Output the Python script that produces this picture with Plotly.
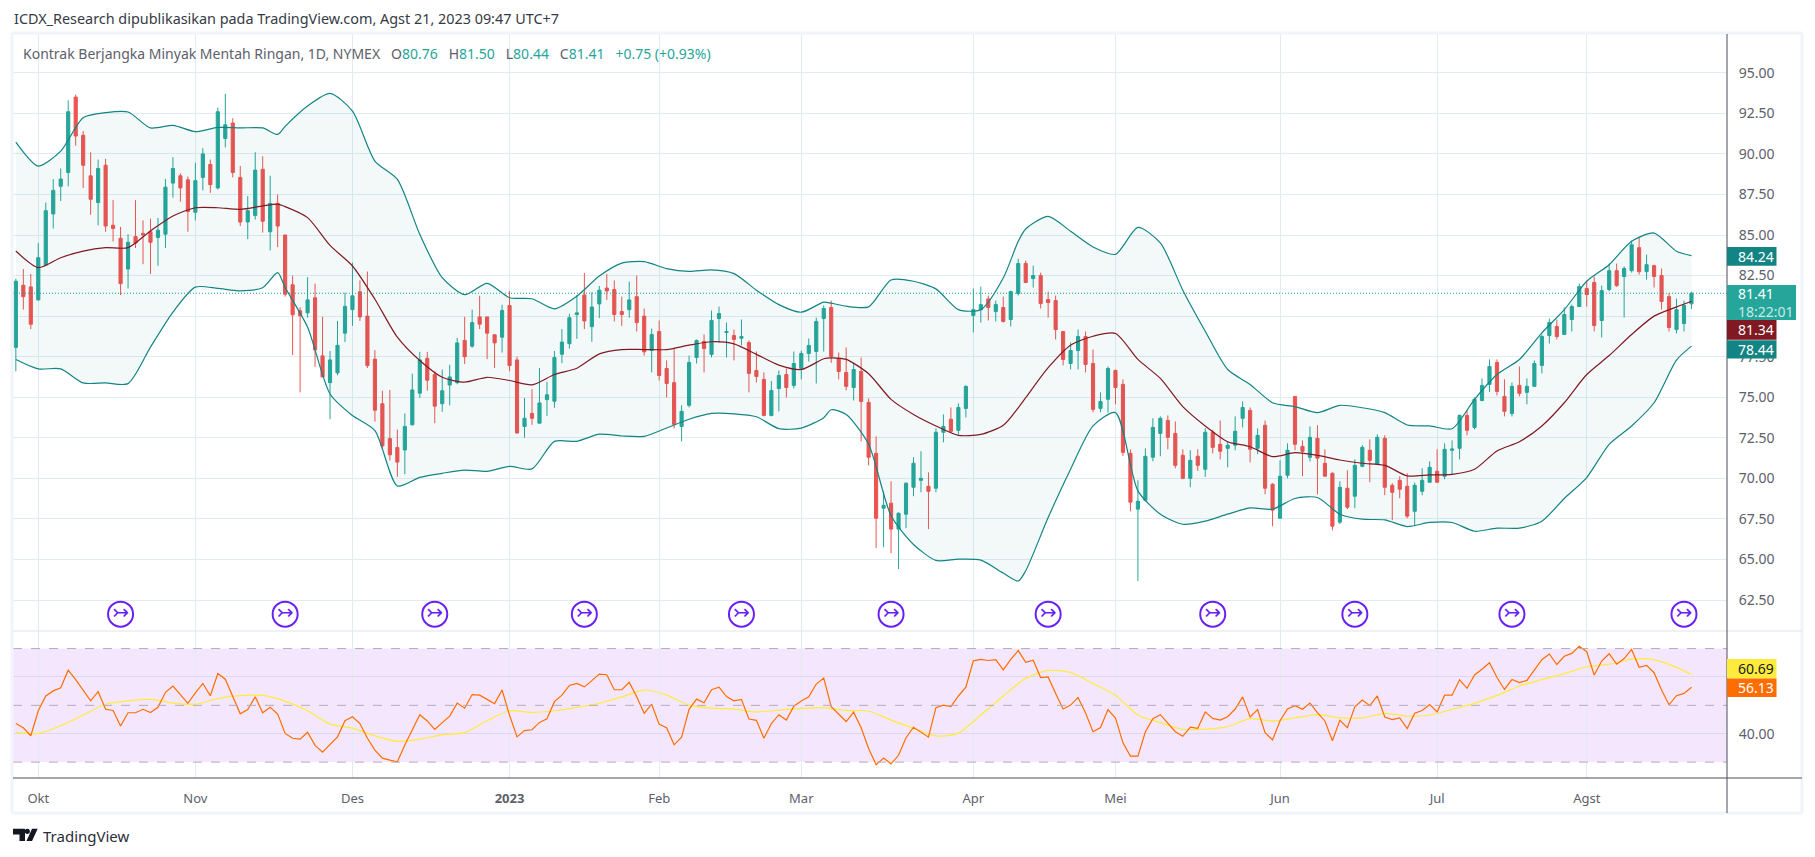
import plotly.graph_objects as go
from plotly.subplots import make_subplots

# Bars are numbered by session, 0 is the first session of October 2022
first_bar = -3

opens = [
    78.07, 81.9, 81.8, 81.0, 83.15, 86.3, 88.0, 88.85, 93.5, 91.15,
    88.65, 87.0, 89.3, 85.6, 84.8, 82.9, 84.9, 85.1, 85.2, 84.85,
    85.05, 88.2, 88.65, 88.4, 86.4, 88.55, 89.35, 87.9, 90.95, 91.9,
    88.55, 85.8, 86.2, 89.05, 85.2, 86.95, 85.0, 81.93, 80.33, 80.2,
    81.13, 77.55, 75.9, 76.5, 78.95, 80.4, 81.5, 80.0, 77.35, 74.6,
    72.45, 71.9, 71.75, 73.3, 75.25, 77.4, 76.4, 74.6, 75.75, 75.9,
    78.5, 78.15, 79.95, 79.95, 78.85, 78.7, 80.65, 77.3, 73.2, 74.0,
    73.4, 74.85, 74.75, 77.65, 78.3, 80.1, 81.3, 79.35, 80.75, 81.73,
    81.64, 80.28, 80.4, 81.2, 80.0, 77.88, 79.05, 76.77, 75.9, 73.2,
    74.5, 77.45, 78.44, 77.64, 79.85, 78.99, 78.8, 78.64, 78.37, 76.65,
    76.1, 73.88, 75.54, 76.4, 75.73, 76.77, 77.7, 77.82, 79.85, 80.53,
    77.39, 76.53, 75.6, 76.59, 74.68, 71.54, 68.16, 68.47, 66.87, 67.79,
    69.45, 69.88, 69.51, 69.39, 72.84, 73.64, 72.96, 74.31, 80.04, 80.4,
    81.06, 80.28, 80.53, 79.79, 81.39, 83.24, 82.31, 82.5, 81.02, 80.96,
    79.05, 77.08, 77.88, 78.74, 77.08, 74.31, 74.87, 76.65, 75.79, 71.54,
    68.1, 68.65, 71.3, 72.77, 73.57, 72.77, 71.42, 70.0, 71.36, 70.56,
    72.84, 72.1, 71.85, 72.04, 73.7, 74.19, 71.85, 73.27, 69.64, 67.54,
    70.19, 75.05, 71.97, 71.3, 72.47, 70.93, 70.31, 67.3, 69.39, 68.9,
    70.74, 71.73, 70.87, 72.47, 69.57, 69.88, 69.51, 67.97, 69.2, 69.76,
    70.44, 70.13, 71.73, 71.85, 73.88, 73.14, 74.8, 75.79, 77.14, 75.05,
    74.0, 75.73, 75.3, 75.67, 76.96, 78.8, 79.36, 78.87, 79.79, 80.59,
    81.7, 82.07, 79.73, 81.64, 82.8, 82.44, 82.8, 84.22, 82.74, 83.11,
    82.5, 81.2, 79.17, 79.54, 80.76,
]
highs = [
    82.3, 82.9, 82.6, 84.5, 87.0, 88.45, 89.1, 93.3, 93.65, 91.4,
    90.1, 89.65, 89.7, 87.15, 85.5, 85.05, 87.15, 85.9, 86.0, 86.05,
    88.45, 89.8, 88.8, 88.6, 89.45, 90.35, 89.65, 92.85, 93.7, 92.2,
    89.25, 87.4, 90.1, 89.85, 88.65, 87.5, 85.0, 82.5, 80.55, 82.4,
    82.0, 79.95, 77.85, 79.7, 81.45, 83.3, 82.2, 82.75, 77.9, 75.4,
    75.45, 73.0, 74.0, 76.45, 77.8, 77.8, 76.6, 76.7, 77.0, 78.65,
    79.95, 80.4, 81.25, 79.95, 78.85, 80.7, 81.55, 77.5, 74.95, 75.5,
    76.8, 75.95, 77.85, 79.2, 80.15, 81.3, 82.66, 81.47, 81.86, 82.6,
    82.2, 81.2, 82.13, 82.5, 80.47, 79.23, 79.73, 77.27, 77.98, 74.5,
    77.57, 78.56, 78.87, 80.34, 80.59, 79.6, 79.17, 79.79, 78.5, 77.82,
    76.53, 76.0, 76.65, 76.77, 77.82, 77.88, 78.62, 79.91, 80.65, 80.96,
    77.76, 78.07, 77.12, 77.45, 74.93, 72.59, 69.2, 69.82, 67.9, 69.74,
    71.3, 71.67, 70.37, 73.08, 73.94, 74.37, 74.62, 75.73, 81.7, 81.82,
    81.27, 80.96, 81.2, 81.57, 83.54, 83.42, 83.11, 82.68, 81.51, 81.27,
    79.05, 78.37, 79.17, 79.05, 77.94, 75.3, 76.9, 76.71, 76.1, 71.79,
    69.88, 71.85, 73.7, 73.82, 73.88, 73.51, 71.79, 71.73, 71.79, 73.1,
    73.0, 73.57, 72.3, 73.82, 74.74, 74.37, 73.08, 73.57, 69.7, 71.11,
    72.16, 75.05, 72.34, 73.2, 73.27, 71.79, 70.37, 69.82, 70.5, 71.17,
    72.04, 72.4, 72.71, 72.65, 69.7, 70.13, 70.31, 69.74, 70.62, 71.05,
    71.79, 72.16, 72.34, 73.94, 74.19, 74.99, 76.16, 77.33, 77.33, 76.1,
    75.91, 76.9, 76.16, 77.27, 78.87, 79.85, 79.79, 80.53, 80.71, 82.0,
    82.19, 82.44, 81.88, 83.24, 83.24, 83.07, 84.65, 84.9, 83.79, 83.17,
    82.93, 81.43, 81.08, 80.96, 81.5,
]
lows = [
    76.6, 80.4, 79.2, 80.95, 83.1, 85.4, 87.1, 88.0, 90.5, 87.9,
    86.25, 85.6, 85.2, 84.6, 81.3, 81.7, 84.2, 83.2, 82.6, 83.1,
    84.2, 87.3, 87.05, 85.2, 85.9, 87.75, 87.6, 87.8, 90.4, 88.55,
    85.55, 84.75, 85.95, 85.15, 84.05, 84.25, 81.2, 77.6, 75.3, 79.9,
    76.87, 76.25, 73.65, 76.35, 78.4, 79.4, 79.7, 76.8, 73.5, 71.75,
    71.1, 70.1, 70.25, 73.25, 74.95, 75.4, 73.4, 74.1, 74.5, 75.8,
    77.05, 78.05, 79.2, 77.35, 76.8, 77.75, 76.6, 72.75, 72.5, 73.3,
    73.4, 73.85, 74.35, 77.1, 78.0, 78.6, 79.2, 78.42, 79.88, 81.0,
    79.67, 79.4, 79.9, 79.05, 77.57, 76.53, 76.03, 74.99, 73.08, 72.28,
    74.37, 77.08, 76.53, 77.45, 78.37, 77.45, 77.27, 78.19, 75.3, 75.91,
    73.82, 73.82, 74.13, 74.99, 75.54, 76.1, 77.2, 75.85, 77.82, 77.12,
    76.1, 75.42, 74.8, 72.28, 70.8, 65.7, 65.76, 65.39, 64.41, 66.93,
    68.9, 69.14, 66.87, 69.14, 72.22, 72.82, 72.7, 73.76, 79.0, 79.6,
    79.73, 79.67, 79.6, 79.36, 81.27, 82.07, 81.76, 80.47, 79.91, 78.56,
    76.96, 76.71, 76.71, 76.53, 74.07, 74.07, 74.05, 74.56, 71.38, 67.97,
    63.67, 68.65, 71.05, 71.36, 71.79, 70.62, 69.94, 69.45, 70.46, 70.09,
    71.54, 71.17, 70.68, 71.73, 73.14, 70.99, 71.48, 69.02, 67.05, 67.54,
    70.0, 71.73, 70.13, 71.05, 69.02, 70.13, 66.8, 67.18, 68.1, 68.16,
    70.68, 69.76, 70.85, 68.96, 67.42, 68.77, 67.54, 67.05, 68.96, 69.74,
    69.74, 69.94, 70.25, 71.17, 72.65, 73.02, 74.75, 75.32, 75.11, 73.82,
    73.82, 75.05, 74.56, 75.65, 76.47, 78.31, 78.56, 78.85, 79.05, 80.59,
    80.59, 79.05, 78.68, 81.53, 81.8, 79.91, 82.68, 82.56, 82.25, 81.76,
    80.4, 79.05, 78.93, 79.05, 80.44,
]
closes = [
    82.15, 81.2, 79.5, 83.6, 86.5, 87.75, 88.45, 92.6, 91.1, 89.3,
    87.2, 89.1, 85.55, 85.4, 82.0, 84.55, 84.5, 85.0, 84.55, 85.3,
    87.95, 89.1, 87.9, 86.45, 88.35, 90.0, 88.1, 92.6, 91.8, 88.85,
    85.8, 86.5, 89.0, 85.85, 86.95, 85.55, 81.35, 80.08, 80.02, 81.0,
    77.92, 76.25, 77.3, 78.2, 80.6, 81.25, 79.95, 76.95, 74.2, 72.0,
    71.45, 71.0, 73.2, 75.45, 77.3, 76.05, 74.45, 75.4, 76.25, 78.35,
    77.5, 79.6, 79.5, 78.95, 78.35, 80.35, 76.95, 72.8, 73.7, 73.7,
    74.65, 75.15, 77.45, 78.4, 79.9, 80.2, 79.7, 80.56, 81.6, 81.55,
    80.1, 80.1, 81.0, 79.6, 77.8, 78.87, 76.34, 75.85, 73.33, 74.13,
    77.14, 78.5, 78.0, 79.73, 80.16, 79.05, 78.56, 78.74, 76.47, 76.28,
    73.88, 75.42, 76.34, 75.6, 77.08, 77.7, 78.19, 79.67, 80.47, 77.51,
    76.59, 75.67, 76.71, 74.74, 71.3, 67.54, 68.34, 66.87, 67.85, 69.7,
    70.93, 70.0, 69.2, 72.84, 73.2, 72.9, 74.37, 75.67, 80.4, 80.71,
    80.53, 80.71, 79.67, 81.51, 83.24, 82.07, 82.5, 80.77, 80.84, 79.17,
    77.33, 77.88, 78.74, 77.02, 74.25, 74.74, 76.77, 75.6, 71.6, 68.53,
    68.59, 71.36, 73.14, 73.7, 72.53, 70.8, 70.0, 71.11, 70.8, 72.84,
    71.91, 71.67, 72.04, 72.9, 74.37, 71.79, 72.65, 69.39, 68.04, 70.13,
    71.73, 72.1, 71.67, 72.53, 71.24, 70.13, 67.05, 69.45, 68.22, 70.8,
    71.91, 71.11, 72.53, 69.45, 69.14, 69.33, 67.67, 69.57, 69.88, 70.68,
    69.76, 71.79, 71.81, 73.88, 72.96, 74.87, 75.73, 76.9, 75.36, 74.13,
    75.67, 75.24, 75.67, 77.08, 78.74, 79.6, 78.74, 80.1, 80.59, 81.82,
    81.33, 79.42, 81.57, 82.8, 81.88, 82.93, 84.4, 82.74, 83.17, 82.44,
    80.9, 79.3, 80.4, 80.65, 81.41,
]

# Bollinger bands, read about every third session
band_bars = [
    -3, 0, 3, 6, 9, 12, 15, 18, 21, 24, 27, 30, 32, 33, 36, 39, 42, 45, 48, 51,
    54, 57, 60, 63, 66, 69, 72, 75, 78, 81, 84, 87, 90, 93, 96, 99, 102, 105, 106, 108,
    111, 114, 117, 120, 123, 126, 129, 131, 132, 135, 138, 141, 144, 147, 150, 153, 156, 159, 162, 165, 168,
    171, 174, 177, 180, 183, 186, 189, 192, 195, 198, 201, 204, 207, 210, 213, 216, 219, 221,
]
band_upper = [
    90.73, 89.25, 90.17, 92.23, 92.54, 92.58, 91.6, 91.76, 91.37, 91.63, 91.6, 91.6, 91.2, 91.7, 92.95, 93.73, 92.64, 89.56, 88.43, 85.04,
    82.37, 81.32, 82.02, 81.13, 81.07, 80.45, 81.23, 82.47, 83.27, 83.36, 82.93, 82.76, 82.85, 82.62, 81.6, 80.71, 80.24, 80.86, 80.8, 80.61,
    80.57, 82.23, 82.15, 81.68, 80.4, 80.4, 82.35, 84.61, 85.37, 86.15, 85.23, 84.26, 83.81, 85.47, 84.51, 81.6, 79.07, 76.71, 75.79, 74.66, 74.42,
    74.05, 74.5, 74.35, 74.05, 73.29, 73.23, 73.06, 74.87, 76.4, 77.33, 78.97, 80.4, 82.15, 83.17, 84.61, 85.12, 84.0, 83.73,
]
band_basis = [
    84.01, 82.99, 83.6, 84.01, 84.22, 84.22, 85.25, 86.17, 86.68, 86.68, 86.58, 86.79, 86.9, 86.75, 86.07, 84.36, 83.09, 81.04, 78.7, 77.26,
    76.23, 75.93, 76.23, 76.03, 75.76, 76.4, 76.79, 77.67, 77.94, 77.94, 77.94, 78.21, 78.42, 78.29, 77.64, 76.98, 76.71, 77.37, 77.43, 77.33,
    76.45, 74.87, 73.94, 73.23, 72.65, 72.71, 73.27, 74.35, 74.97, 76.82, 78.21, 78.76, 78.93, 77.33, 76.16, 74.42, 73.23, 72.26, 71.95, 71.34, 71.58,
    71.42, 71.13, 70.93, 70.8, 70.15, 70.21, 70.25, 70.56, 71.69, 72.26, 73.23, 74.66, 76.4, 77.57, 78.87, 80.0, 80.57, 80.92,
]
band_lower = [
    77.33, 76.75, 76.75, 75.88, 75.88, 75.84, 78.09, 80.25, 81.79, 81.71, 81.56, 81.75, 82.68, 81.76, 79.32, 75.2, 73.87, 72.94, 69.53, 70.06,
    70.31, 70.51, 70.43, 70.74, 70.58, 72.28, 72.28, 72.72, 72.61, 72.59, 73.1, 73.64, 74.0, 73.98, 73.8, 73.06, 73.1, 73.74, 74.23, 73.94,
    72.1, 67.69, 65.92, 64.94, 65.02, 64.96, 64.16, 63.67, 64.3, 67.58, 70.56, 73.23, 74.05, 69.23, 67.79, 67.17, 67.36, 67.79, 68.18, 68.1, 68.76,
    68.82, 67.79, 67.48, 67.44, 67.03, 67.28, 67.28, 66.74, 66.93, 66.93, 67.36, 68.76, 70.05, 72.1, 73.23, 74.66, 77.29, 78.15,
]

# RSI for every session
rsi_values = [
    43.6, 42.1, 39.3, 48.1, 53.3, 55.1, 56.2, 62.4, 59.1, 55.4,
    51.6, 54.8, 48.6, 48.2, 42.7, 47.4, 47.4, 48.6, 47.5, 49.3,
    54.6, 56.8, 53.8, 50.7, 54.4, 57.7, 53.4, 61.2, 59.2, 52.8,
    47.0, 48.5, 53.0, 47.4, 49.3, 46.9, 40.1, 38.4, 38.1, 40.5,
    35.9, 33.5, 36.2, 38.9, 44.6, 46.0, 43.6, 38.4, 34.2, 31.4,
    30.7, 30.1, 36.0, 41.6, 46.7, 44.5, 41.5, 43.9, 46.2, 50.8,
    49.0, 53.8, 53.6, 52.1, 50.6, 55.4, 46.5, 38.9, 41.1, 41.4,
    44.0, 45.3, 51.3, 53.6, 57.0, 57.7, 56.5, 58.7, 61.0, 60.8,
    55.5, 55.5, 58.1, 53.0, 47.2, 50.4, 43.3, 42.1, 36.1, 38.8,
    48.6, 52.2, 50.9, 55.5, 56.4, 53.1, 51.6, 52.1, 45.2, 44.7,
    38.4, 43.6, 46.7, 44.8, 49.7, 51.5, 53.0, 57.5, 59.6, 49.5,
    46.9, 44.3, 47.6, 42.1, 34.8, 29.1, 31.4, 29.4, 32.4, 38.6,
    42.3, 40.7, 38.8, 49.2, 50.1, 49.6, 53.3, 56.4, 65.7, 66.2,
    65.8, 66.1, 62.5, 66.2, 69.3, 65.2, 65.9, 59.8, 60.0, 54.2,
    48.7, 50.1, 52.8, 47.3, 40.7, 42.2, 48.5, 45.5, 36.8, 32.1,
    32.1, 40.7, 45.3, 46.7, 43.6, 40.7, 39.1, 42.3, 41.9, 47.7,
    45.4, 44.8, 46.0, 48.7, 53.0, 45.9, 48.5, 40.4, 37.8, 44.6,
    48.7, 49.9, 48.6, 50.8, 47.4, 44.5, 37.5, 44.7, 42.1, 49.5,
    51.9, 49.9, 53.3, 45.9, 45.0, 45.6, 41.8, 47.2, 48.2, 50.3,
    47.7, 53.6, 53.6, 59.0, 56.0, 60.7, 62.7, 65.0, 59.8, 55.6,
    59.1, 58.0, 58.8, 62.4, 66.1, 68.1, 64.4, 67.3, 68.3, 70.8,
    68.9, 60.7, 65.6, 68.2, 64.5, 66.5, 69.7, 63.4, 64.1, 61.5,
    55.4, 50.2, 53.4, 54.2, 56.4,
]

# RSI moving average, read every third session
rsi_ma_bars = list(range(-3, 220, 3)) + [221]
rsi_ma = [
    40.5, 40.1, 42.8, 46.6, 50.4, 51.6, 52.1, 50.8, 50.4, 52.4, 53.4, 53.5, 51.5, 48.1, 43.4, 42.0, 39.3, 37.3, 38.1, 39.6,
    40.4, 44.6, 48.1, 47.5, 48.1, 49.3, 50.7, 53.0, 55.4, 53.6, 50.1, 49.0, 48.7, 47.7, 48.3, 48.9, 49.2, 48.2, 48.0, 44.8,
    41.9, 39.2, 40.2, 46.6, 53.3, 59.5, 62.3, 61.6, 57.7, 53.6, 46.6, 43.9, 41.5, 41.6, 42.5, 45.3, 44.5, 45.6, 46.7, 45.6,
    45.6, 47.2, 46.2, 46.6, 48.6, 50.7, 53.5, 56.8, 59.1, 61.2, 63.6, 64.5, 66.3, 66.1, 63.4, 60.9,
]

# Sessions carrying the contract roll icon
roll_bars = [11, 33, 53, 73, 94, 114, 135, 157, 176, 197, 220]
roll_level = 61.63

month_bars = [0, 21, 42, 63, 83, 102, 125, 144, 166, 187, 207]
month_labels = ["Okt", "Nov", "Des", "<b>2023</b>", "Feb", "Mar", "Apr", "Mei", "Jun", "Jul", "Agst"]

price_ticks = [62.5, 65, 67.5, 70, 72.5, 75, 77.5, 80, 82.5, 85, 87.5, 90, 92.5, 95]
# 80.00 sits behind the last price labels in the reference
price_tick_labels = ["62.50", "65.00", "67.50", "70.00", "72.50", "75.00", "77.50", "",
                     "82.50", "85.00", "87.50", "90.00", "92.50", "95.00"]

UP = "#26a69a"
DOWN = "#ef5350"
BAND = "#138484"
BASIS = "#801922"
GRID = "#e1ecf2"
FRAME = "#f0f3fa"
AXIS = "#4a4e5a"
TEXT = "#5d606b"
ROLL = "#6a1ff5"
FONT = "Noto Sans"

bars = list(range(first_bar, first_bar + len(closes)))

fig = make_subplots(rows=2, cols=1, shared_xaxes=True, vertical_spacing=0,
                    row_heights=[597, 147])

# Plot area in pixels, used for everything placed relative to the page
LEFT, RIGHT, TOP, BOTTOM = 13, 1727, 34, 778


def px(x):
    return (x - LEFT) / (RIGHT - LEFT)


def py(y):
    return 1 - (y - TOP) / (BOTTOM - TOP)


# Bollinger band fill and lines
smooth_band = dict(width=1.2, shape="spline", smoothing=0.7)
fig.add_trace(go.Scatter(x=band_bars, y=band_upper, mode="lines",
                         line=dict(color=BAND, **smooth_band)), row=1, col=1)
fig.add_trace(go.Scatter(x=band_bars, y=band_lower, mode="lines", fill="tonexty",
                         fillcolor="rgba(19,132,132,0.05)",
                         line=dict(color=BAND, **smooth_band)), row=1, col=1)
fig.add_trace(go.Scatter(x=band_bars, y=band_basis, mode="lines",
                         line=dict(color=BASIS, **smooth_band)), row=1, col=1)

fig.add_trace(go.Candlestick(
    x=bars, open=opens, high=highs, low=lows, close=closes,
    increasing=dict(line=dict(color=UP, width=1), fillcolor=UP),
    decreasing=dict(line=dict(color=DOWN, width=1), fillcolor=DOWN),
    whiskerwidth=0,
), row=1, col=1)

fig.add_trace(go.Scatter(
    x=roll_bars, y=[roll_level] * len(roll_bars), mode="markers+text",
    text=["↣"] * len(roll_bars), textposition="middle center",
    textfont=dict(family="DejaVu Sans", size=20, color=ROLL),
    marker=dict(symbol="circle-open", size=25, color=ROLL, line=dict(width=2, color=ROLL)),
), row=1, col=1)

# RSI pane
fig.add_trace(go.Scatter(x=rsi_ma_bars, y=rsi_ma, mode="lines",
                         line=dict(color="#ffeb3b", width=1.2, shape="spline", smoothing=0.7)), row=2, col=1)
fig.add_trace(go.Scatter(x=bars, y=rsi_values, mode="lines",
                         line=dict(color="#ff6d00", width=1.2)), row=2, col=1)

# RSI band and its dashed levels
fig.add_shape(type="rect", xref="x2 domain", yref="y2", x0=0, x1=1, y0=30, y1=70,
              fillcolor="#f4e7fd", line_width=0, layer="below")
for level in [30, 50, 70]:
    fig.add_shape(type="line", xref="x2 domain", yref="y2", x0=0, x1=1, y0=level, y1=level,
                  line=dict(color="#b5aab9", width=1, dash="dash"), layer="above")

# Last price line
fig.add_shape(type="line", xref="x domain", yref="y", x0=0, x1=1, y0=closes[-1], y1=closes[-1],
              line=dict(color="#12a597", width=1, dash="1px,2px"))

# Frame, pane separator and axis lines
page_lines = [
    (12, 33, 1802, 33, FRAME, 3), (12, 813, 1802, 813, FRAME, 3),
    (12, 33, 12, 813, FRAME, 3), (1802, 33, 1802, 813, FRAME, 3),
    (13, 631, 1802, 631, "#e0e3eb", 1), (13, 778, 1802, 778, AXIS, 1),
    (1727, 34, 1727, 813, AXIS, 1),
]
for x0, y0, x1, y1, color, width in page_lines:
    fig.add_shape(type="line", xref="paper", yref="paper", x0=px(x0), x1=px(x1), y0=py(y0), y1=py(y1),
                  line=dict(color=color, width=width))


def axis_label(text, top, bottom, right, color, font_color):
    fig.add_shape(type="rect", xref="paper", yref="paper", x0=px(1727), x1=px(right),
                  y0=py(bottom), y1=py(top), fillcolor=color, line_width=0)
    fig.add_annotation(xref="paper", yref="paper", x=px(1736), y=py((top + bottom) / 2),
                       xanchor="left", yanchor="middle", align="left", text=text, showarrow=False,
                       font=dict(family=FONT, size=14, color=font_color))


axis_label("84.24", 247, 265.7, 1776.5, BAND, "#ffffff")
axis_label("81.41<br><span style='color:#c8e9e6'>18:22:01</span>", 285, 320, 1796, UP, "#ffffff")
axis_label("81.34", 320, 339.7, 1776.5, BASIS, "#ffffff")
axis_label("78.44", 340.3, 358.6, 1776.5, BAND, "#ffffff")
axis_label("60.69", 659, 678.5, 1776.5, "#ffeb3b", "#131722")
axis_label("56.13", 678.5, 697, 1776.5, "#ff6d00", "#ffffff")

# Header lines
fig.add_annotation(xref="paper", yref="paper", x=px(12), y=py(18), xanchor="left", yanchor="middle",
                   text="ICDX_Research dipublikasikan pada TradingView.com, Agst 21, 2023 09:47 UTC+7",
                   showarrow=False, font=dict(family=FONT, size=14.4, color="#363a45"))


def teal(value):
    return f"<span style='color:{UP}'>{value}</span>"


gap = " &nbsp;&nbsp;"
legend_text = ("Kontrak Berjangka Minyak Mentah Ringan, 1D, NYMEX" + gap
               + "O" + teal("80.76") + gap + "H" + teal("81.50") + gap
               + "L" + teal("80.44") + gap + "C" + teal("81.41") + gap
               + teal("+0.75 (+0.93%)"))
fig.add_annotation(xref="paper", yref="paper", x=px(21), y=py(53.5), xanchor="left", yanchor="middle",
                   text=legend_text, showarrow=False, font=dict(family=FONT, size=14, color=TEXT))

# TradingView logo
logo_paths = [
    [(13, 828.7), (25, 828.7), (25, 841), (19.5, 841), (19.5, 834.5), (13, 834.5)],
    [(32, 828.7), (37.7, 828.7), (32, 841), (26.5, 841)],
]
for points in logo_paths:
    path = "M " + " L ".join(f"{px(x):.5f},{py(y):.5f}" for x, y in points) + " Z"
    fig.add_shape(type="path", xref="paper", yref="paper", path=path, fillcolor="#131722", line_width=0)
fig.add_shape(type="circle", xref="paper", yref="paper", x0=px(24.8), x1=px(29.9), y0=py(834), y1=py(828.7),
              fillcolor="#131722", line_width=0)
fig.add_annotation(xref="paper", yref="paper", x=px(41), y=py(835.5), xanchor="left", yanchor="middle",
                   text="TradingView", showarrow=False, font=dict(family=FONT, size=15, color="#2a2e39"))

fig.update_xaxes(range=[-3.38, 225.75], showgrid=True, gridcolor=GRID, gridwidth=1,
                 tickvals=month_bars, ticktext=month_labels, zeroline=False, showline=False,
                 rangeslider_visible=False, ticks="")
fig.update_xaxes(showticklabels=False, row=1, col=1)
fig.update_xaxes(showticklabels=True, ticks="outside", ticklen=8, tickcolor="rgba(0,0,0,0)",
                 tickfont=dict(family=FONT, size=13, color=TEXT), row=2, col=1)

fig.update_yaxes(side="right", showgrid=True, gridcolor=GRID, gridwidth=1, zeroline=False, showline=False,
                 ticks="outside", ticklen=8, tickcolor="rgba(0,0,0,0)",
                 tickfont=dict(family=FONT, size=14, color=TEXT))
fig.update_yaxes(range=[60.59, 97.39], tickvals=price_ticks, ticktext=price_tick_labels, row=1, col=1)
fig.update_yaxes(range=[24.4, 76.2], tickvals=[40, 60], ticktext=["40.00", ""], gridcolor="#dcd8ee", row=2, col=1)

fig.update_layout(
    width=1815, height=857,
    margin=dict(l=LEFT, r=1815 - RIGHT, t=TOP, b=857 - BOTTOM),
    paper_bgcolor="#ffffff", plot_bgcolor="#ffffff",
    showlegend=False, boxgap=0.4, hovermode=False,
)

fig.write_html("out.html", post_script="document.body.style.margin='0';",
               config={"displayModeBar": False})
